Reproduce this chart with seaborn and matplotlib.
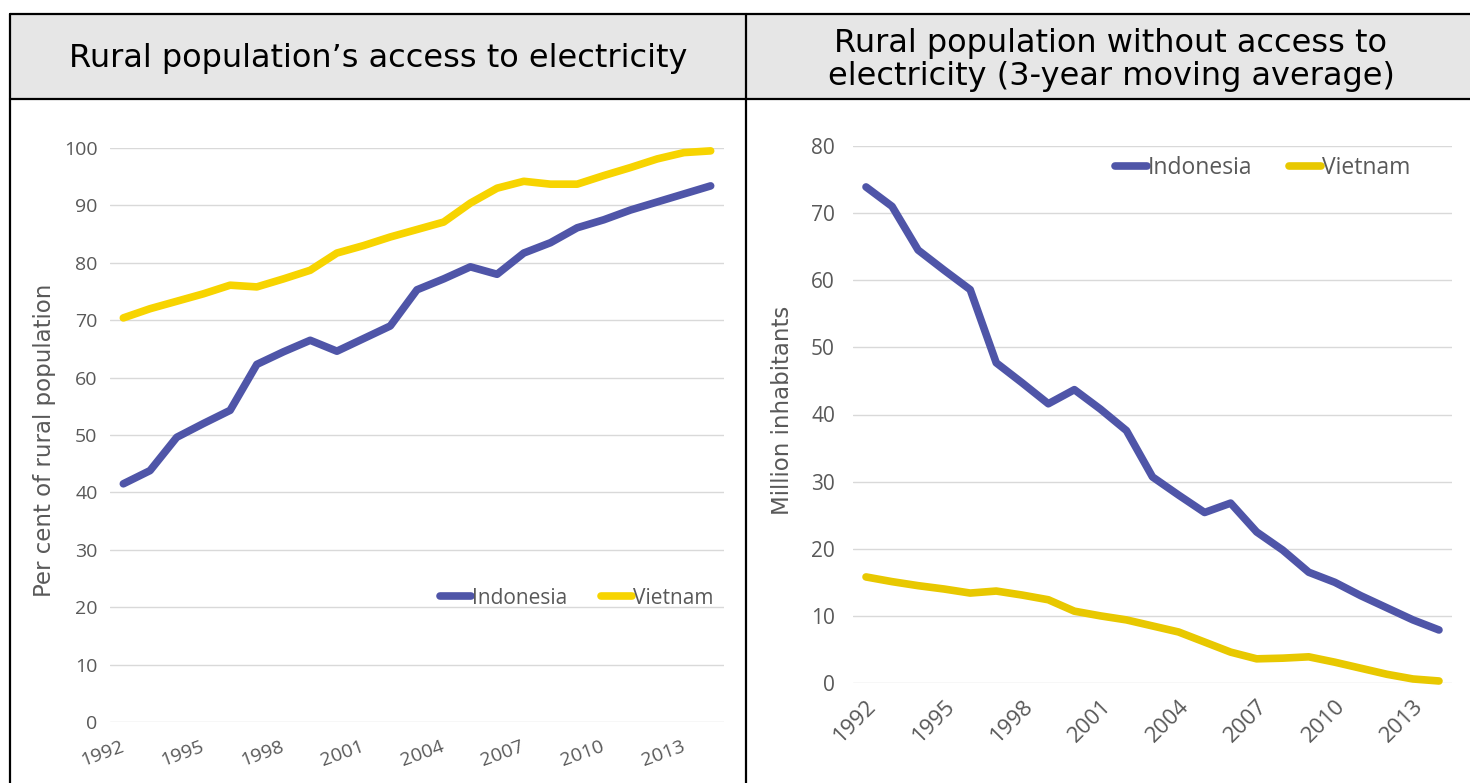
import matplotlib
matplotlib.use("Agg")
import matplotlib.pyplot as plt
import seaborn as sns
import pandas as pd
from matplotlib.patches import Rectangle
from matplotlib.lines import Line2D

years = list(range(1992, 2015))

# Left: share of rural population with access to electricity (%)
access_indonesia = [41.5, 43.8, 49.6, 52.0, 54.3, 62.3, 64.5, 66.5, 64.6, 66.8, 69.0,
                    75.3, 77.2, 79.3, 78.0, 81.7, 83.5, 86.1, 87.5, 89.2, 90.6, 92.0, 93.4]
access_vietnam = [70.4, 72.0, 73.3, 74.6, 76.1, 75.8, 77.2, 78.7, 81.7, 83.0, 84.5,
                  85.8, 87.1, 90.4, 93.0, 94.2, 93.7, 93.7, 95.2, 96.6, 98.1, 99.2, 99.5]

# Right: rural population without access (million, 3-year moving average)
without_indonesia = [73.9, 71.0, 64.5, 61.5, 58.6, 47.7, 44.7, 41.6, 43.7, 40.8, 37.6,
                     30.7, 28.0, 25.4, 26.8, 22.5, 19.8, 16.5, 15.0, 13.0, 11.2, 9.4, 7.9]
without_vietnam = [15.8, 15.1, 14.5, 14.0, 13.4, 13.7, 13.1, 12.4, 10.7, 10.0, 9.4,
                   8.5, 7.6, 6.1, 4.6, 3.6, 3.7, 3.9, 3.1, 2.2, 1.3, 0.6, 0.3]

countries = ["Indonesia", "Vietnam"]
xtick_years = [1992, 1995, 1998, 2001, 2004, 2007, 2010, 2013]
left_title = "Rural population\u2019s access to electricity"
right_title = "Rural population without access to\nelectricity (3-year moving average)"
left_ylabel = "Per cent of rural population"
right_ylabel = "Million inhabitants"

df_left = pd.DataFrame({
    "year": years * 2,
    "value": access_indonesia + access_vietnam,
    "country": ["Indonesia"] * len(years) + ["Vietnam"] * len(years),
})
df_right = pd.DataFrame({
    "year": years * 2,
    "value": without_indonesia + without_vietnam,
    "country": ["Indonesia"] * len(years) + ["Vietnam"] * len(years),
})

sns.set_theme(style="white")
FONT = ["Open Sans", "DejaVu Sans"]
WIDE = ["DejaVu Sans"]
plt.rcParams["font.family"] = FONT

W, H = 1470, 783
fig = plt.figure(figsize=(W / 100, H / 100), dpi=100)
fig.patch.set_facecolor("white")

def fx(px):
    return px / W

def fy(py):
    return 1 - py / H

# header boxes
fig.patches.append(Rectangle((fx(10), fy(99)), fx(1460), fy(14) - fy(99),
                             transform=fig.transFigure, facecolor="#e6e6e6",
                             edgecolor="none", zorder=0))
border_kw = dict(transform=fig.transFigure, color="black", linewidth=1.6, zorder=5)
fig.lines.append(Line2D([fx(10), fx(1470)], [fy(14), fy(14)], **border_kw))
fig.lines.append(Line2D([fx(10), fx(1470)], [fy(99), fy(99)], **border_kw))
fig.lines.append(Line2D([fx(10), fx(10)], [fy(14), fy(783)], **border_kw))
fig.lines.append(Line2D([fx(746), fx(746)], [fy(14), fy(783)], **border_kw))

title_kw = dict(ha="center", va="center", fontsize=23, color="black", family=WIDE)
fig.text(fx(378), fy(59), left_title, **title_kw)
fig.text(fx(1111), fy(60), right_title, linespacing=1.1, **title_kw)

tick_color = "#595959"
grid_color = "#d9d9d9"
c_indo = "#4f55a8"

def style_axes(ax, ylim, yticks):
    ax.set_xlim(1991.5, 2014.5)
    ax.set_ylim(*ylim)
    ax.set_yticks(yticks)
    ax.set_xticks(xtick_years)
    for s in ax.spines.values():
        s.set_visible(False)
    ax.grid(axis="y", color=grid_color, linewidth=1.0)
    ax.grid(axis="x", visible=False)
    ax.tick_params(axis="both", length=0, colors=tick_color, labelsize=14)
    ax.set_xlabel("")

# Left axes
axl = fig.add_axes([fx(110), fy(722), fx(724) - fx(110), fy(148) - fy(722)])
sns.lineplot(data=df_left, x="year", y="value", hue="country", ax=axl,
             palette={"Indonesia": c_indo, "Vietnam": "#f7d400"},
             linewidth=5.5, legend=False, clip_on=False,
             solid_capstyle="round", solid_joinstyle="round")
style_axes(axl, (0, 100), range(0, 101, 10))
axl.tick_params(axis="y", pad=9)
axl.set_ylabel(left_ylabel, fontsize=16.5, color=tick_color, family=WIDE, va="center")
axl.yaxis.set_label_coords(-0.106, 0.491)
for lab in axl.get_xticklabels():
    lab.set_rotation(20)
    lab.set_ha("right")
    lab.set_va("center")
    lab.set_rotation_mode("anchor")
axl.tick_params(axis="x", pad=17, labelsize=14)
handles_l = [Line2D([], [], color=c_indo, lw=5.5, solid_capstyle="round"),
             Line2D([], [], color="#f7d400", lw=5.5, solid_capstyle="round")]
axl.legend(handles_l, countries, loc="center", bbox_to_anchor=(0.76, 0.216),
           ncol=2, frameon=False, fontsize=15, handlelength=1.5,
           handletextpad=0.05, columnspacing=1.6, labelcolor=tick_color)

# Right axes
axr = fig.add_axes([fx(853), fy(683), fx(1452) - fx(853), fy(146) - fy(683)])
sns.lineplot(data=df_right, x="year", y="value", hue="country", ax=axr,
             palette={"Indonesia": c_indo, "Vietnam": "#e8c800"},
             linewidth=5.5, legend=False, clip_on=False,
             solid_capstyle="round", solid_joinstyle="round")
style_axes(axr, (0, 80), range(0, 81, 10))
axr.tick_params(axis="y", pad=13, labelsize=15)
axr.set_ylabel(right_ylabel, fontsize=16.5, color=tick_color, family=WIDE, va="center")
axr.yaxis.set_label_coords(-0.1185, 0.507)
for lab in axr.get_xticklabels():
    lab.set_rotation(45)
    lab.set_ha("right")
    lab.set_rotation_mode("anchor")
axr.tick_params(axis="x", pad=9, labelsize=16)
handles_r = [Line2D([], [], color=c_indo, lw=5.5, solid_capstyle="round"),
             Line2D([], [], color="#e8c800", lw=5.5, solid_capstyle="round")]
axr.legend(handles_r, countries, loc="center", bbox_to_anchor=(0.684, 0.959),
           ncol=2, frameon=False, fontsize=16.5, handlelength=1.4,
           handletextpad=0.05, columnspacing=1.6, labelcolor=tick_color)

fig.savefig("out.png", dpi=100, facecolor="white")
